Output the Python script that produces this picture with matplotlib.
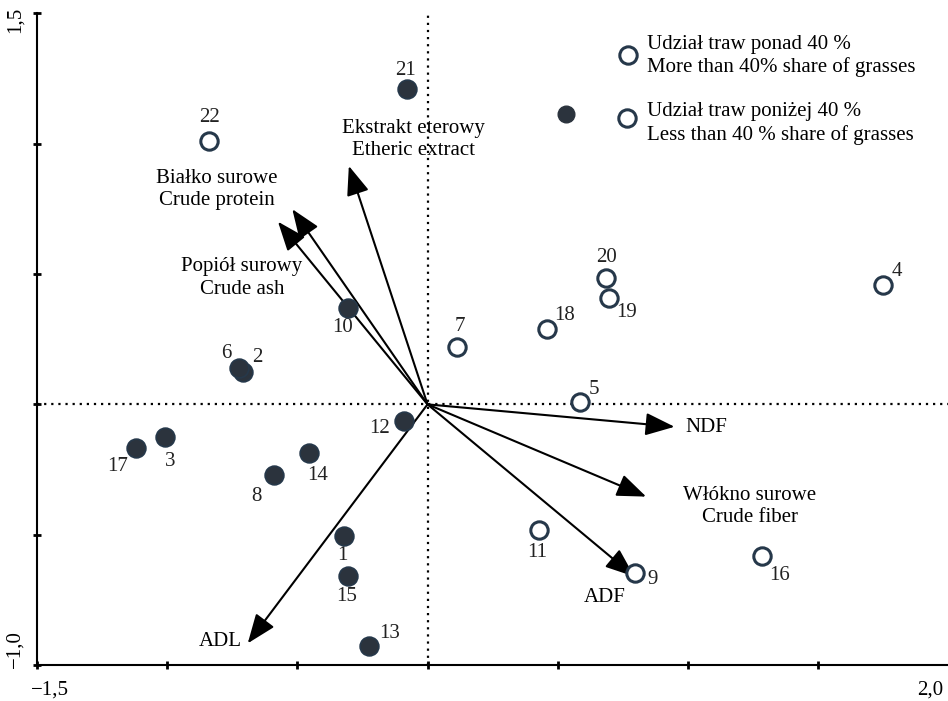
import matplotlib
matplotlib.use("Agg")
import matplotlib.pyplot as plt

plt.rcParams['font.family'] = ['Liberation Serif', 'DejaVu Serif']

# punkty: udział traw ponad 40 % (puste kółka)
open_ids = ["4", "5", "7", "9", "11", "16", "18", "19", "20", "22"]
open_x = [1.747, 0.586, 0.114, 0.798, 0.427, 1.283, 0.458, 0.696, 0.683, -0.837]
open_y = [0.458, 0.010, 0.221, -0.648, -0.482, -0.581, 0.288, 0.409, 0.484, 1.012]

# udział traw poniżej 40 % (pełne kółka)
fill_ids = ["1", "2", "3", "6", "8", "10", "12", "13", "14", "15", "17", "21"]
fill_x = [-0.322, -0.709, -1.009, -0.724, -0.590, -0.307, -0.091, -0.223, -0.453, -0.306, -1.120, -0.079]
fill_y = [-0.505, 0.125, -0.126, 0.141, -0.271, 0.370, -0.064, -0.927, -0.188, -0.658, -0.166, 1.209]

# przesunięcie etykiet numerów (w pikselach)
label_off = {
    "4": (14, 14), "5": (14, 12), "7": (3, 20), "9": (17, -6), "11": (-2, -23),
    "16": (18, -20), "18": (18, 14), "19": (18, -15), "20": (1, 21), "22": (0, 23),
    "1": (-1, -20), "2": (15, 14), "3": (6, -24), "6": (-13, 14), "8": (-17, -22),
    "10": (-5, -20), "12": (-24, -7), "13": (20, 12), "14": (8, -22), "15": (-1, -21),
    "17": (-18, -19), "21": (-1, 19),
}

# wektory zmiennych
var_names = ["NDF", "Włókno surowe\nCrude fiber", "ADF", "ADL",
             "Ekstrakt eterowy\nEtheric extract", "Białko surowe\nCrude protein",
             "Popiół surowy\nCrude ash"]
var_x = [0.948, 0.839, 0.794, -0.690, -0.302, -0.519, -0.574]
var_y = [-0.086, -0.354, -0.661, -0.917, 0.915, 0.749, 0.701]
var_lab_x = [0.99, 1.236, 0.681, -0.794, -0.054, -0.809, -0.713]
var_lab_y = [-0.088, -0.392, -0.740, -0.910, 1.018, 0.823, 0.485]
var_ha = ["left", "center", "center", "center", "center", "center", "center"]

FS = 15
LS = 1.22

fig = plt.figure(figsize=(9.48, 7.01), dpi=100)
ax = fig.add_axes([0.0387, 0.0514, 0.962, 0.9294])
ax.set_xlim(-1.5, 2.0)
ax.set_ylim(-1.0, 1.5)

ax.axhline(0, color="black", lw=1.6, dashes=(1, 2.2))
ax.axvline(0, color="black", lw=1.6, dashes=(1, 2.2))

for vx, vy in zip(var_x, var_y):
    ax.annotate("", xy=(vx, vy), xytext=(0, 0),
                arrowprops=dict(arrowstyle="-|>,head_length=0.9,head_width=0.35",
                                color="black", lw=1.5, shrinkA=0, shrinkB=0,
                                mutation_scale=20))
for name, lx, ly, ha in zip(var_names, var_lab_x, var_lab_y, var_ha):
    ax.text(lx, ly, name, ha=ha, va="center", fontsize=FS, linespacing=LS)

ax.plot(fill_x, fill_y, "o", ms=13.5, color="#2b333d", mec="#26384a", mew=1.2, zorder=5)
ax.plot(open_x, open_y, "o", ms=12.5, mfc="white", mec="#26384a", mew=2.2, zorder=5)

for ids, xs, ys in [(open_ids, open_x, open_y), (fill_ids, fill_x, fill_y)]:
    for i, x, y in zip(ids, xs, ys):
        ax.annotate(i, (x, y), xytext=label_off[i], textcoords="offset pixels",
                    ha="center", va="center", fontsize=FS, color="#222222")

# legenda
ax.plot([0.771, 0.764], [1.341, 1.099], "o", ms=12.5, mfc="white", mec="#26384a", mew=2.2)
ax.plot([0.532], [1.114], "o", ms=12, color="#2b333d")
ax.text(0.843, 1.337, "Udział traw ponad 40 %\nMore than 40% share of grasses",
        ha="left", va="center", fontsize=FS, linespacing=LS)
ax.text(0.843, 1.078, "Udział traw poniżej 40 %\nLess than 40 % share of grasses",
        ha="left", va="center", fontsize=FS, linespacing=LS)

for s in ["top", "right"]:
    ax.spines[s].set_visible(False)
for s in ["left", "bottom"]:
    ax.spines[s].set_linewidth(1.5)
ax.set_xticks([-1.5, -1.0, -0.5, 0, 0.5, 1.0, 1.5, 2.0])
ax.set_yticks([-1.0, -0.5, 0, 0.5, 1.0, 1.5])
ax.tick_params(direction="inout", length=6, width=2, labelbottom=False, labelleft=False)

ax.text(-0.024, 1.475, "1,5", transform=ax.get_yaxis_transform(), rotation=90,
        ha="center", va="center", fontsize=FS)
ax.text(-0.024, -0.94, "\u22121,0", transform=ax.get_yaxis_transform(), rotation=90,
        ha="center", va="center", fontsize=FS)
ax.text(-1.45, -0.038, "\u22121,5", transform=ax.get_xaxis_transform(),
        ha="center", va="center", fontsize=FS)
ax.text(1.93, -0.038, "2,0", transform=ax.get_xaxis_transform(),
        ha="center", va="center", fontsize=FS)

fig.savefig("out.png", dpi=100)
